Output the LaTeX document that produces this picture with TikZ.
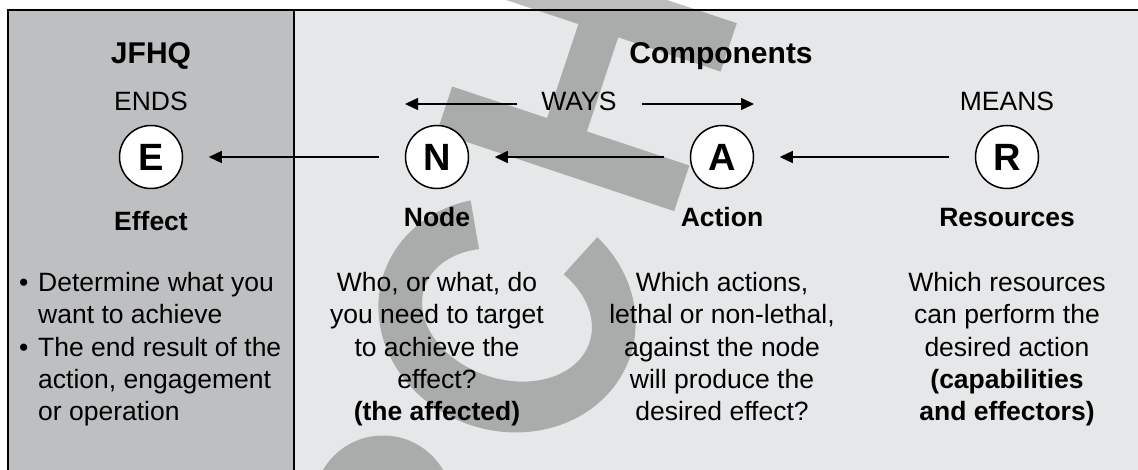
\documentclass[tikz,border=0pt]{standalone}
\usepackage{fontspec}
\setmainfont{Liberation Sans}
\usetikzlibrary{arrows.meta}
\definecolor{endsgray}{RGB}{190,191,193}
\definecolor{waysgray}{RGB}{230,231,232}

\begin{document}
\begin{tikzpicture}[x=1pt,y=-1pt,
    letter/.style={draw, circle, fill=white, line width=1.5pt, minimum size=63pt, inner sep=0pt, font=\fontsize{38}{38}\selectfont\bfseries},
    headtxt/.style={anchor=base, inner sep=0pt, font=\fontsize{30}{36}\selectfont\bfseries},
    tagtxt/.style={anchor=base, inner sep=0pt, font=\fontsize{26.5}{32}\selectfont},
    nametxt/.style={anchor=base, inner sep=0pt, font=\fontsize{26.5}{32}\selectfont\bfseries},
    bodytxt/.style={anchor=north, inner sep=0pt, align=center, font=\fontsize{26.5}{32.3}\selectfont},
    mark gray/.style={black, fill opacity=0.26},
    flow/.style={-{Triangle[length=13pt,width=12pt]}, line width=1.3pt}]
    \useasboundingbox (0,0) rectangle (1138,470);

    % panels
    \fill[endsgray] (8,10) rectangle (293.5,470);
    \fill[waysgray] (293.5,10) rectangle (1138,470);

    % watermark
    \begin{scope}
        \clip (0,0) rectangle (1138,470);
        \fill[mark gray] (437,132) -- (674.2,211.1) -- (689.4,165.5) -- (586.9,131.4) -- (618.2,37.4)
            -- (720.7,71.6) -- (736.8,23.2) -- (499.6,-55.8) -- (483.5,-7.5) -- (578.4,24.1)
            -- (547.1,118.1) -- (452.2,86.5) -- cycle;
        \fill[mark gray] plot[domain=123:422, samples=80, smooth]
                ({507 + 123.3*cos(\x) + 36.7*sin(\x)}, {315 + 41.1*cos(\x) - 110.0*sin(\x)})
            -- plot[domain=422:123, samples=80, smooth]
                ({507 + 82.5*cos(\x) + 20.2*sin(\x)}, {315 + 27.5*cos(\x) - 60.7*sin(\x)})
            -- cycle;
        \fill[mark gray] (383,505) circle[radius=69.5];
    \end{scope}

    % frame
    \draw[line width=2.2pt] (8,470) -- (8,10) -- (1138,10);
    \draw[line width=2pt] (293.5,10) -- (293.5,470);

    \node[headtxt] (jfhq) at (151,64) {JFHQ};
    \node[headtxt] (comp) at (721,64) {Components};

    \node[tagtxt] (ends) at (151,111) {ENDS};
    \node[tagtxt] (ways) at (579,111) {WAYS};
    \node[tagtxt] (means) at (1007,111) {MEANS};
    \coordinate (waysL) at (405,104);
    \coordinate (waysR) at (754,104);

    \node[letter] (E) at (151,157) {E};
    \node[letter] (N) at (437,157) {N};
    \node[letter] (A) at (722,157) {A};
    \node[letter] (R) at (1007,157) {R};

    \draw[flow, shorten <=24pt] (ways.west |- waysL) -- (waysL);
    \draw[flow, shorten <=25pt] (ways.east |- waysR) -- (waysR);
    \draw[flow, shorten <=25.5pt, shorten >=25.5pt] (N) -- (E);
    \draw[flow, shorten <=25.5pt, shorten >=25.5pt] (A) -- (N);
    \draw[flow, shorten <=25.5pt, shorten >=25.5pt] (R) -- (A);

    \node[nametxt] (effect) at (151,231) {Effect};
    \node[nametxt] (node) at (437,227) {Node};
    \node[nametxt] (action) at (722,227) {Action};
    \node[nametxt] (res) at (1007,227) {Resources};

    \node[bodytxt, anchor=north west, align=left] (effbody) at (19,272)
        {\makebox[19pt][l]{\textbullet}Determine what you\\\hspace*{19pt}want to achieve\\
         \makebox[19pt][l]{\textbullet}The end result of the\\\hspace*{19pt}action, engagement\\\hspace*{19pt}or operation};
    \node[bodytxt] (nodebody) at (437,272)
        {Who, or what, do\\you need to target\\to achieve the\\effect?\\\textbf{(the affected)}};
    \node[bodytxt] (actbody) at (722,272)
        {Which actions,\\lethal or non-lethal,\\against the node\\will produce the\\desired effect?};
    \node[bodytxt] (resbody) at (1007,272)
        {Which resources\\can perform the\\desired action\\\textbf{(capabilities}\\\textbf{and effectors)}};
\end{tikzpicture}
\end{document}
